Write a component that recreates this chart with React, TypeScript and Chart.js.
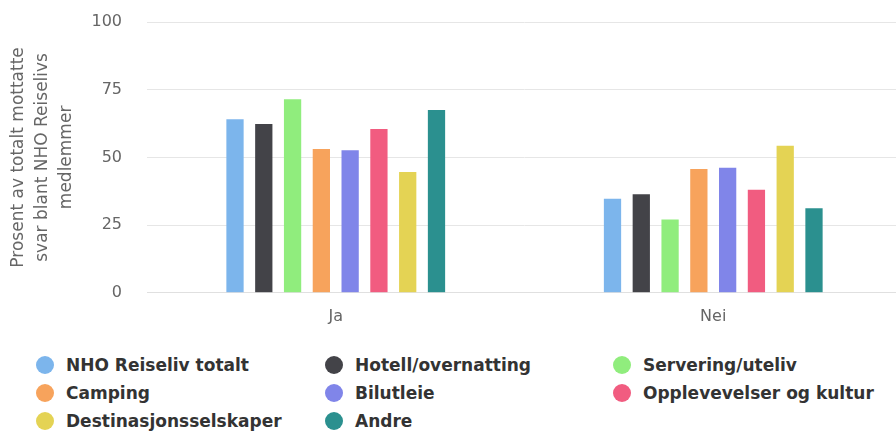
import React, { useEffect, useRef } from "react";
import { Chart, registerables } from "chart.js";

Chart.register(...registerables);

const categories = ["Ja", "Nei"];
const seriesNames = [
  "NHO Reiseliv totalt",
  "Hotell/overnatting",
  "Servering/uteliv",
  "Camping",
  "Bilutleie",
  "Opplevevelser og kultur",
  "Destinasjonsselskaper",
  "Andre",
];
const seriesColors = [
  "#7cb5ec",
  "#434348",
  "#90ed7d",
  "#f7a35c",
  "#8085e9",
  "#f15c80",
  "#e4d354",
  "#2b908f",
];
const jaValues = [64.1, 62.3, 71.5, 53.1, 52.6, 60.5, 44.6, 67.5];
const neiValues = [34.7, 36.4, 27.1, 45.7, 46.2, 38.1, 54.3, 31.2];
const yTicks = [0, 25, 50, 75, 100];
const yTitle = ["Prosent av totalt mottatte", "svar blant NHO Reiselivs", "medlemmer"];

export default function App() {
  const canvasRef = useRef<HTMLCanvasElement | null>(null);

  useEffect(() => {
    if (!canvasRef.current) return;
    const chart = new Chart(canvasRef.current, {
      type: "bar",
      data: {
        labels: categories,
        datasets: seriesNames.map((name, i) => ({
          label: name,
          data: [jaValues[i], neiValues[i]],
          backgroundColor: seriesColors[i],
          borderWidth: 0,
          categoryPercentage: 0.61,
          barPercentage: 0.6,
        })),
      },
      options: {
        animation: false,
        responsive: false,
        maintainAspectRatio: false,
        layout: { padding: { top: 22, right: 0, bottom: 0, left: 0 } },
        plugins: {
          legend: { display: false },
          tooltip: { enabled: false },
        },
        scales: {
          x: {
            grid: { display: false, drawTicks: false },
            border: { display: true, color: "#e0e0e0", width: 1 },
            ticks: {
              color: "#666666",
              font: { family: "DejaVu Sans", size: 16 },
              padding: 14,
            },
          },
          y: {
            min: 0,
            max: 100,
            afterBuildTicks: (scale: any) => {
              scale.ticks = yTicks.map((v) => ({ value: v }));
            },
            afterFit: (scale: any) => {
              scale.width = 147;
              scale.paddingTop = 0;
              scale.paddingBottom = 0;
            },
            grid: { color: "#e6e6e6", drawTicks: false, lineWidth: 1 },
            border: { display: false },
            ticks: {
              color: "#666666",
              font: { family: "DejaVu Sans", size: 16 },
              padding: 25,
            },
            title: {
              display: true,
              text: yTitle,
              color: "#666666",
              font: { family: "DejaVu Sans", size: 17, lineHeight: 1.41 },
              padding: { top: 7, bottom: 0 },
            },
          },
        },
      },
    });
    return () => chart.destroy();
  }, []);

  const colX = [36, 325, 613];
  const rowY = [365, 393, 421];

  return (
    <div
      style={{
        position: "absolute",
        left: 0,
        top: 0,
        width: 896,
        height: 431,
        overflow: "hidden",
        background: "#fff",
      }}
    >
      <canvas ref={canvasRef} width={902} height={340} style={{ display: "block" }} />
      {seriesNames.map((name, i) => {
        const col = i % 3;
        const row = Math.floor(i / 3);
        return (
          <div
            key={name}
            style={{
              position: "absolute",
              left: colX[col],
              top: rowY[row] - 12,
              height: 24,
              display: "flex",
              alignItems: "center",
              fontFamily: "DejaVu Sans",
              fontWeight: "bold",
              fontSize: 17,
              color: "#333333",
              whiteSpace: "nowrap",
            }}
          >
            <span
              style={{
                display: "inline-block",
                width: 18,
                height: 18,
                borderRadius: "50%",
                background: seriesColors[i],
                marginRight: 12,
              }}
            />
            <span>{name}</span>
          </div>
        );
      })}
    </div>
  );
}
